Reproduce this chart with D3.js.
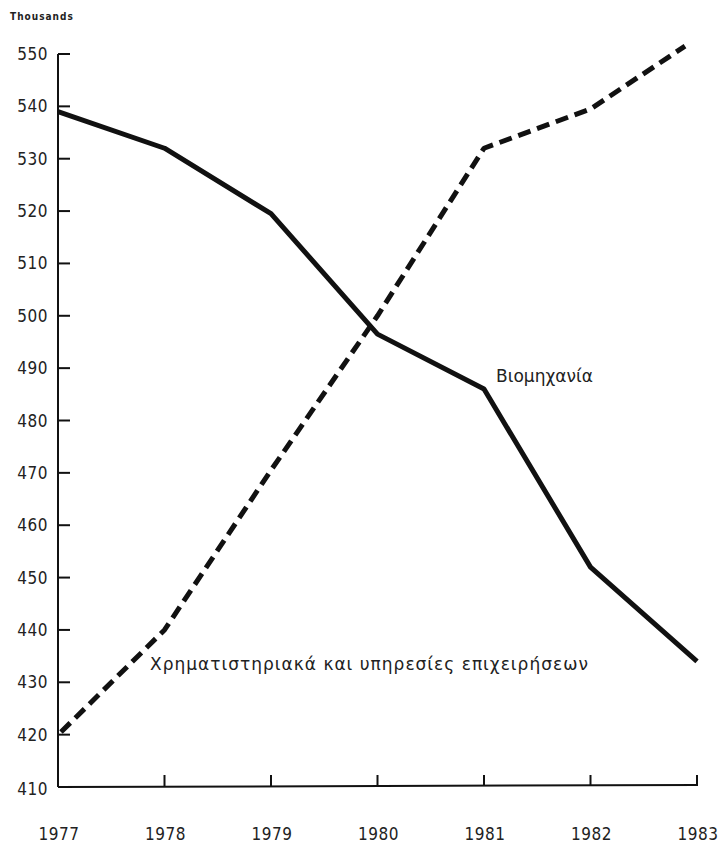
<!DOCTYPE html>
<html><head><meta charset="utf-8">
<script src="https://cdn.jsdelivr.net/npm/d3@7"></script>
<style>body{margin:0;background:#fff}svg{display:block}</style>
</head><body>
<svg id="c" width="718" height="846"></svg>
<script>
const years = [1977, 1978, 1979, 1980, 1981, 1982, 1983];
const industry = [539, 532, 519.5, 496.5, 486, 452, 434];
const services = [420.5, 440, 470.5, 500, 532, 539.5, 551.5];
const yTicks = [410, 420, 430, 440, 450, 460, 470, 480, 490, 500, 510, 520, 530, 540, 550];
const industryLabel = "Βιομηχανία";
const servicesLabel = "Χρηματιστηριακά και υπηρεσίες επιχειρήσεων";
const unitLabel = "Thousands";

const svg = d3.select("#c");
const x = d3.scaleLinear().domain([1977, 1983]).range([58, 697]);
const y = d3.scaleLinear().domain([410, 550]).range([787, 54]);

const ax = svg.append("g").attr("fill","none").attr("stroke","#111").attr("stroke-width",2);
ax.append("line").attr("x1",x(1977)).attr("x2",x(1977)).attr("y1",y(410)).attr("y2",y(550));
ax.append("line").attr("x1",x(1977)).attr("x2",x(1983)).attr("y1",y(410)).attr("y2",y(410)-2);
yTicks.slice(1).forEach(t=>{
  ax.append("line").attr("x1",x(1977)).attr("x2",x(1977)+12).attr("y1",y(t)).attr("y2",y(t));
});
years.slice(1).forEach(t=>{
  ax.append("line").attr("x1",x(t)).attr("x2",x(t)).attr("y1",y(410)-1).attr("y2",y(410)-12);
});

const tf = "'DejaVu Sans Condensed', 'DejaVu Sans', sans-serif";
svg.append("g").selectAll("text").data(yTicks).join("text")
  .attr("x", 48).attr("y", d=>y(d)+ (d===410?8:6)).attr("text-anchor","end")
  .attr("font-family",tf).attr("font-size",17).attr("letter-spacing",0.5).attr("fill","#222")
  .text(d=>d);
svg.append("g").selectAll("text").data(years).join("text")
  .attr("x", d=>x(d)+1).attr("y", 840).attr("text-anchor","middle")
  .attr("font-family",tf).attr("font-size",17).attr("letter-spacing",0.5).attr("fill","#222").text(d=>d);
svg.append("text").attr("x",10).attr("y",20).attr("font-family",tf).attr("font-size",10)
  .attr("letter-spacing",1).attr("font-weight","bold").attr("fill","#222").text(unitLabel);

const line = d3.line().x((d,i)=>x(years[i])).y(d=>y(d));
svg.append("path").datum(industry).attr("d",line).attr("fill","none")
  .attr("stroke","#111").attr("stroke-width",5).attr("stroke-linejoin","round");
svg.append("path").datum(services).attr("d",d3.line().x((d,i)=>x(years[i])+(i===0?3:(i===6?-12:0))).y(d=>y(d)))
  .attr("fill","none").attr("stroke","#111").attr("stroke-width",5)
  .attr("stroke-dasharray","13,7").attr("stroke-linejoin","round");

const lf = "'DejaVu Sans', Verdana, sans-serif";
svg.append("text").attr("x",496).attr("y",382).attr("font-family",lf).attr("font-size",17)
  .attr("fill","#222").text(industryLabel);
svg.append("text").attr("x",150).attr("y",670).attr("font-family",lf).attr("font-size",17)
  .attr("letter-spacing",1).attr("fill","#222").text(servicesLabel);
</script>
</body></html>
